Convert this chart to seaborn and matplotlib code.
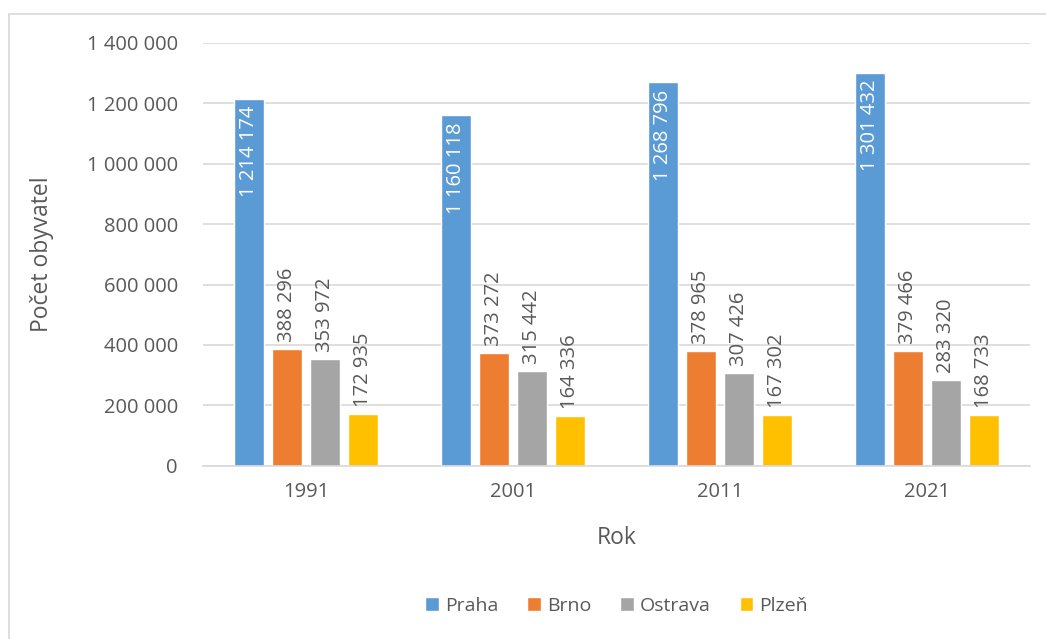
import seaborn as sns
import matplotlib.pyplot as plt
import pandas as pd
from matplotlib.patches import Rectangle

years = ["1991", "2001", "2011", "2021"]
cities = ["Praha", "Brno", "Ostrava", "Plzeň"]
praha = [1214174, 1160118, 1268796, 1301432]
brno = [388296, 373272, 378965, 379466]
ostrava = [353972, 315442, 307426, 283320]
plzen = [172935, 164336, 167302, 168733]
colors = ["#5B9BD5", "#ED7D31", "#A5A5A5", "#FFC000"]

TXT = "#595959"


def fmt(v):
    return f"{v:,.0f}".replace(",", " ")


rows = []
for city, vals in zip(cities, [praha, brno, ostrava, plzen]):
    for y, v in zip(years, vals):
        rows.append({"Rok": y, "Město": city, "Počet": v})
df = pd.DataFrame(rows)

sns.set_style("white")
plt.rcParams["font.family"] = ["Open Sans", "DejaVu Sans"]

fig = plt.figure(figsize=(10.46, 6.39), dpi=100)
ax = fig.add_axes([0.194, 0.271, 0.791, 0.662])

sns.barplot(data=df, x="Rok", y="Počet", hue="Město", hue_order=cities,
            palette=colors, width=0.734, gap=0.21, ax=ax, legend=True,
            saturation=1)

ax.set_ylim(0, 1400000)
ax.set_yticks(range(0, 1400001, 200000))
ax.set_yticklabels([fmt(t) for t in range(0, 1400001, 200000)])
ax.yaxis.grid(True, color="#D9D9D9", linewidth=1.2)
ax.set_axisbelow(True)
for s in ["left", "right", "top"]:
    ax.spines[s].set_visible(False)
ax.spines["bottom"].set_color("#D9D9D9")
ax.spines["bottom"].set_linewidth(1.2)
ax.tick_params(axis="both", length=0, labelsize=14.5, colors=TXT)
ax.tick_params(axis="y", pad=18)
ax.tick_params(axis="x", pad=12)

ax.set_xlabel("Rok", fontsize=16.5, color=TXT)
ax.set_ylabel("Počet obyvatel", fontsize=16.5, color=TXT)
ax.xaxis.set_label_coords(0.5, -0.142)
ax.yaxis.set_label_coords(-0.180, 0.5)

# data labels
for i, cont in enumerate(ax.containers):
    for bar in cont:
        h = bar.get_height()
        xc = bar.get_x() + bar.get_width() / 2
        if i == 0:
            ax.annotate(fmt(h), (xc, h), xytext=(0, -5), textcoords="offset points",
                        rotation=90, ha="center", va="top", color="white", fontsize=14.5)
        else:
            ax.annotate(fmt(h), (xc, h), xytext=(0, 5), textcoords="offset points",
                        rotation=90, ha="center", va="bottom", color=TXT, fontsize=14.5)

leg = ax.legend(loc="center", bbox_to_anchor=(0.5, -0.331), ncol=4, frameon=False,
                fontsize=14, handlelength=0.7, handleheight=0.7, handletextpad=0.3,
                columnspacing=1.5)
for t in leg.get_texts():
    t.set_color(TXT)

# outer chart border (left and top visible)
fig.add_artist(Rectangle((9 / 1046, -0.05), 1.2, 1.05 - 14 / 639,
                         transform=fig.transFigure, fill=False,
                         edgecolor="#D9D9D9", linewidth=1.2))

fig.savefig("out.png", dpi=100)
plt.close(fig)
